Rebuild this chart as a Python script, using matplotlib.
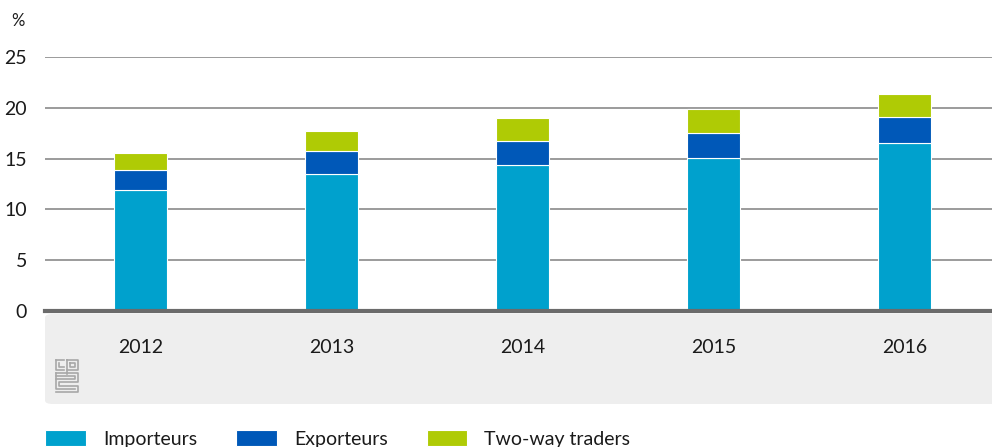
import matplotlib.pyplot as plt
from matplotlib.patches import FancyBboxPatch
import numpy as np

plt.rcParams['font.family'] = ['Lato', 'DejaVu Sans']

# Gegevens
jaren = ["2012", "2013", "2014", "2015", "2016"]
importeurs = [11.9, 13.5, 14.4, 15.1, 16.5]
exporteurs = [1.95, 2.2, 2.35, 2.4, 2.6]
two_way = [1.75, 2.0, 2.25, 2.4, 2.3]

kleuren = ["#00a1cd", "#0058b8", "#afcb05"]
W, H = 992, 447

fig = plt.figure(figsize=(W / 100, H / 100), dpi=100)
ax = fig.add_axes([45 / W, (H - 311) / H, (W - 45) / W, 254 / H])

# Grijze band onder de x-as
band = FancyBboxPatch((45 / W, (H - 404) / H), (W - 45) / W + 0.02, 90 / H,
                      boxstyle="round,pad=0,rounding_size=0.008",
                      transform=fig.transFigure, facecolor="#eeeeee",
                      edgecolor="none", zorder=-5)
fig.patches.append(band)

x = np.arange(len(jaren))
breedte = 0.277
onder = np.zeros(len(jaren))
for waarden, kleur, naam in zip([importeurs, exporteurs, two_way], kleuren,
                                 ["Importeurs", "Exporteurs", "Two-way traders"]):
    ax.bar(x, waarden, breedte, bottom=onder, color=kleur, edgecolor="white",
           linewidth=0.8, label=naam, zorder=3)
    onder += np.array(waarden)

ax.set_xlim(-0.5, -0.5 + 947 / 191)
ax.set_ylim(0, 25)
ax.set_yticks([0, 5, 10, 15, 20, 25])
ax.grid(axis="y", color="#8a8a8a", linewidth=1.2, zorder=1)
ax.set_axisbelow(True)
for s in ["top", "right", "left"]:
    ax.spines[s].set_visible(False)
ax.spines["bottom"].set_color("#6b6b6b")
ax.spines["bottom"].set_linewidth(3)
ax.spines["bottom"].set_zorder(4)

ax.set_xticks(x)
ax.set_xticklabels(jaren)
ax.tick_params(axis="x", length=0, pad=20, labelsize=14, labelcolor="#1a1a1a")
ax.tick_params(axis="y", length=0, pad=13, labelsize=14, labelcolor="#1a1a1a")
ax.patch.set_alpha(0)

fig.text(11 / W, 1 - 21 / H, "%", fontsize=12, color="#1a1a1a", va="center")

# Vereenvoudigd cbs-logo
lx, ly = 56, 360
logo = [
    [(0, 0), (0, 10), (8, 10)], [(3, 3), (3, 7), (8, 7)], [(0, 0), (8, 0)],
    [(11, 0), (11, 10), (22, 10), (22, 0), (11, 0)], [(14, 3), (19, 3), (19, 7), (14, 7), (14, 3)],
    [(11, 10), (11, 14)], [(0, 13), (22, 13), (22, 22), (3, 22), (3, 26), (22, 26), (22, 32), (0, 32)],
    [(0, 13), (0, 29), (19, 29)], [(0, 16), (19, 16), (19, 19), (0, 19)],
]
for lijn in logo:
    px = [(lx + p[0]) / W for p in lijn]
    py = [1 - (ly + p[1]) / H for p in lijn]
    fig.add_artist(plt.Line2D(px, py, color="#a8a8a8", linewidth=1.2))

fig.legend(loc="upper left", bbox_to_anchor=(45 / W, 1 - 430 / H), ncol=3,
           frameon=False, fontsize=14, handlelength=2.1, handleheight=0.9,
           handletextpad=0.88, columnspacing=2.0, labelcolor="#1a1a1a",
           borderpad=0, borderaxespad=0)

plt.savefig("out.png", dpi=100)
plt.close()
